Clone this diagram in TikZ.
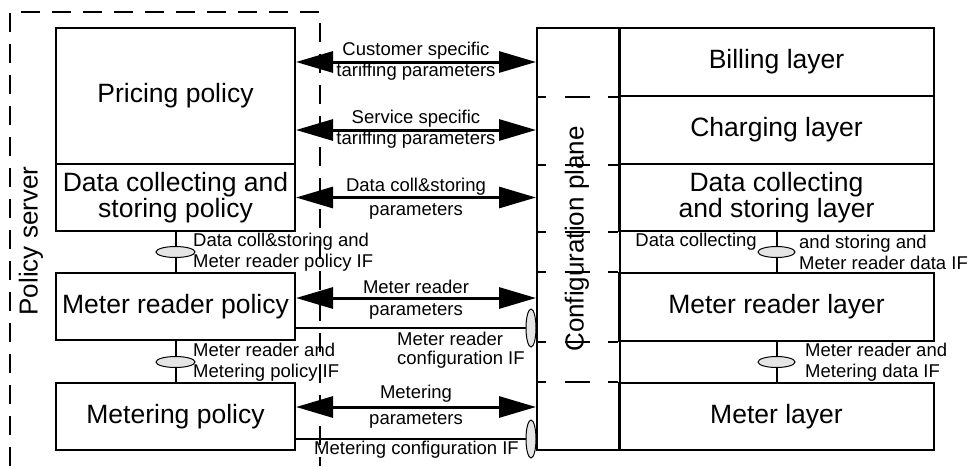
\documentclass[tikz,border=0pt]{standalone}
\usepackage{fontspec}
\setmainfont{Liberation Sans}
\usetikzlibrary{arrows.meta,shapes.geometric}
\begin{document}
\begin{tikzpicture}[x=1pt,y=-1pt,
        box/.style={draw,line width=2pt,inner sep=0pt,align=center,
            font=\fontsize{26.5}{26.5}\selectfont},
        big/.style={inner sep=0pt,font=\fontsize{26}{26}\selectfont},
        lbl/.style={inner sep=0pt,align=left,font=\fontsize{18.5}{21}\selectfont},
        ifc/.style={ellipse,draw,line width=1pt,fill=black!10,inner sep=0pt},
        par/.style={line width=3pt,
            {Triangle[length=37pt,width=21pt]}-{Triangle[length=37pt,width=21pt]}}]
\useasboundingbox (0,0) rectangle (971,466);

% policy server
\draw[line width=2pt,dash pattern=on 19pt off 12pt] (10,466) -- (10,12) -- (320,12) -- (320,466);
\node[big,rotate=90] (srv) at (31,241) {Policy server};
\node[box,minimum width=239pt,minimum height=136pt] (pricing) at (175.5,96) {Pricing policy};
\node[box,minimum width=239pt,minimum height=67pt] (datapol) at (175.5,197.5) {Data collecting and\\storing policy};
\node[box,minimum width=239pt,minimum height=67pt] (readerpol) at (175.5,306.5) {Meter reader policy};
\node[box,minimum width=239pt,minimum height=67pt] (meterpol) at (175.5,416.5) {Metering policy};

% layers
\node[draw,line width=2pt,minimum width=83pt,minimum height=422pt,inner sep=0pt] (cfg) at (578.5,239) {};
\node[big,rotate=90] (cfgtxt) at (577,239) {Configuration plane};
\node[box,minimum width=315pt,minimum height=68pt] (billing) at (776.5,62) {Billing layer};
\node[box,minimum width=315pt,minimum height=68pt] (charging) at (776.5,130) {Charging layer};
\node[box,minimum width=315pt,minimum height=67pt] (datalayer) at (776.5,197.5) {Data collecting\\and storing layer};
\node[box,minimum width=315pt,minimum height=68pt] (readerlayer) at (776.5,307) {Meter reader layer};
\node[box,minimum width=315pt,minimum height=67pt] (meterlayer) at (776.5,416.5) {Meter layer};
\foreach \n in {billing.south,charging.south,datalayer.south,readerlayer.north,readerlayer.south,meterlayer.north}
    \draw[line width=2pt,dash pattern=on 10pt off 19pt on 25pt off 18pt] (cfg.west |- \n) -- (cfg.east |- \n);

% parameters
\draw[par] (pricing.east |- billing.west) -- node[lbl,above=1pt] {Customer specific}
    node[lbl,below=0pt] {tariffing parameters} (cfg.west |- billing.west);
\draw[par] (pricing.east |- charging.west) -- node[lbl,above=1pt] {Service specific}
    node[lbl,below=0pt] {tariffing parameters} (cfg.west |- charging.west);
\draw[par] (datapol.east) -- node[lbl,above=1pt] {Data coll\&storing}
    node[lbl,below=5pt] {parameters} (cfg.west |- datapol.east);
\coordinate (mr) at ([yshift=8.5pt]readerpol.east);
\draw[par] (mr) -- node[lbl,above=3pt] {Meter reader}
    node[lbl,below=4pt] {parameters} (mr -| cfg.west);
\coordinate (mt) at ([yshift=9.5pt]meterpol.east);
\draw[par] (mt) -- node[lbl,above=3pt] {Metering}
    node[lbl,below=4pt] {parameters} (mt -| cfg.west);

% interfaces
\draw[line width=2pt] (datapol.south) -- (readerpol.north);
\node[ifc,minimum width=39pt,minimum height=11pt] (if1) at (175.5,252) {};
\node[lbl,anchor=west] (if1txt) at (193,252) {Data coll\&storing and\\Meter reader policy IF};
\draw[line width=2pt] (readerpol.south) -- (meterpol.north);
\node[ifc,minimum width=39pt,minimum height=11pt] (if2) at (175.5,362) {};
\node[lbl,anchor=west] (if2txt) at (193,362) {Meter reader and\\Metering policy IF};

\draw[line width=2pt] (datalayer.south) -- (readerlayer.north);
\node[ifc,minimum width=37pt,minimum height=11pt] (if3) at (776.5,252) {};
\node[lbl,anchor=east] (if3a) at (757,242) {Data collecting};
\node[lbl,anchor=west] (if3b) at (799,252) {and storing and\\Meter reader data IF};
\draw[line width=2pt] (readerlayer.south) -- (meterlayer.north);
\node[ifc,minimum width=37pt,minimum height=11pt] (if4) at (776.5,362) {};
\node[lbl,anchor=west] (if4txt) at (805,362) {Meter reader and\\Metering data IF};

\node[ifc,minimum width=10pt,minimum height=38pt] (cif1) at (531,328) {};
\draw[line width=2pt] ([yshift=-21.5pt]readerpol.east) -- (cif1);
\node[lbl,anchor=west,font=\fontsize{18.5}{18.5}\selectfont] (cif1txt) at (397,350) {Meter reader\\configuration IF};
\node[ifc,minimum width=10pt,minimum height=38pt] (cif2) at (531,439) {};
\draw[line width=2pt] ([yshift=-22.5pt]meterpol.east) -- (cif2);
\node[lbl] (cif2txt) at (416.5,450) {Metering configuration IF};
\end{tikzpicture}
\end{document}
